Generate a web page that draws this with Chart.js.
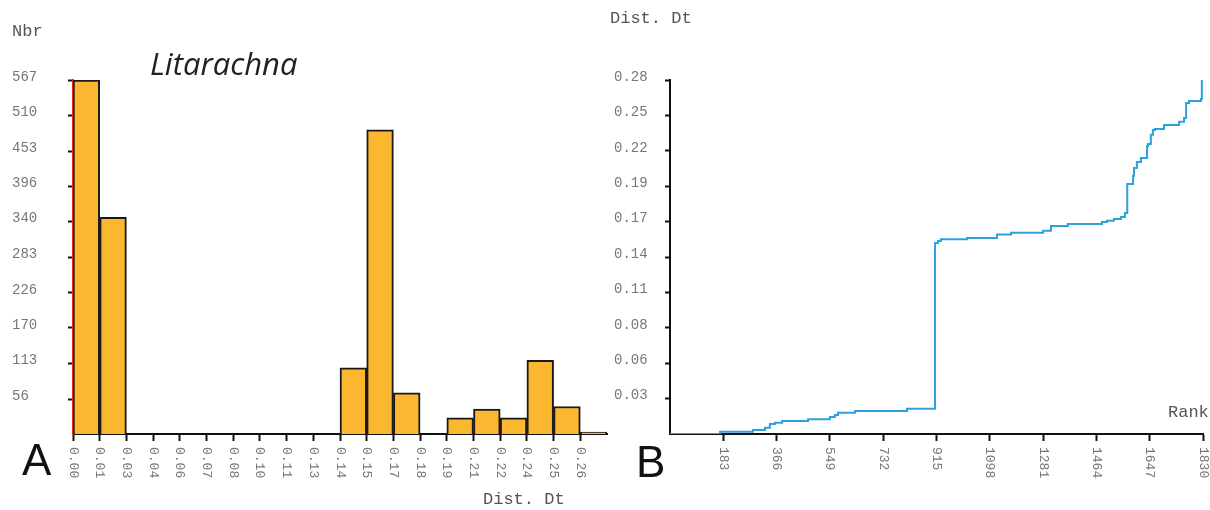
<!DOCTYPE html>
<html>
<head>
<meta charset="utf-8">
<script src="https://cdn.jsdelivr.net/npm/chart.js@4.4.1/dist/chart.umd.min.js"></script>
<style>
  body { margin: 0; width: 1210px; height: 510px; position: relative; background: #fff; overflow: hidden; }
  canvas { position: absolute; left: 0; top: 0; }
  .mono { position: absolute; font-family: "Liberation Mono", monospace; font-size: 17px; line-height: 17px; color: #555; white-space: nowrap; }
  .big { position: absolute; font-family: "Liberation Sans", Arial, sans-serif; font-size: 44px; line-height: 44px; color: #111; }
  .title { position: absolute; font-family: "Open Sans", sans-serif; font-style: italic; font-size: 31px; line-height: 31px; color: #222; }
</style>
</head>
<body>
<canvas id="histChart" width="1210" height="510"></canvas>
<canvas id="rankChart" width="1210" height="510"></canvas>

<div class="mono" style="left:12px; top:23px;">Nbr</div>
<div class="title" style="left:150px; top:48px;">Litarachna</div>
<div class="mono" style="left:483px; top:491px;">Dist. Dt</div>
<div class="big" style="left:22px; top:438px;">A</div>

<div class="mono" style="left:610px; top:10px;">Dist. Dt</div>
<div class="mono" style="left:1168px; top:404px;">Rank</div>
<div class="big" style="left:636px; top:440px;">B</div>

<script>
// histogram (A)
const binLabels = ['0.00', '0.01', '0.03', '0.04', '0.06', '0.07', '0.08', '0.10', '0.11', '0.13',
                   '0.14', '0.15', '0.17', '0.18', '0.19', '0.21', '0.22', '0.24', '0.25', '0.26'];
const binCounts = [567, 347, 0, 0, 0, 0, 0, 0, 0, 0, 106, 487, 66, 0, 26, 40, 26, 118, 44, 3];
const countTicks = [56, 113, 170, 226, 283, 340, 396, 453, 510, 567];

// rank curve (B)
const rankSteps = [0, 172, 285, 326, 343, 360, 385, 474, 549, 566, 577, 635, 814,
                   910, 920, 930, 1020, 1123, 1171, 1281, 1308, 1366, 1483, 1500, 1524, 1548, 1562,
                   1570, 1590, 1593, 1603, 1617, 1638, 1641, 1651, 1658, 1665, 1696, 1748, 1765,
                   1772, 1782, 1823, 1826];
const distSteps = [0, 0.0018, 0.0032, 0.0050, 0.0079, 0.0089, 0.0103, 0.0116, 0.0134, 0.0150, 0.0168, 0.0182, 0.0200,
                   0.1511, 0.1527, 0.1540, 0.1550, 0.1577, 0.1592, 0.1608, 0.1645, 0.1661, 0.1677, 0.1687, 0.1701, 0.1717, 0.1748,
                   0.1978, 0.2041, 0.2104, 0.2152, 0.2183, 0.2278, 0.2294, 0.2366, 0.2405, 0.2413, 0.2445, 0.2469, 0.2500,
                   0.2619, 0.2634, 0.2650, 0.2800];
const rankTicks = [183, 366, 549, 732, 915, 1098, 1281, 1464, 1647, 1830];
const distTickLabels = ['0.03', '0.06', '0.08', '0.11', '0.14', '0.17', '0.19', '0.22', '0.25', '0.28'];

const monoFont = { family: '"Liberation Mono", monospace', size: 14 };
const axisInk = '#111';

// x labels read top to bottom, so draw them ourselves
function downLabels(getText) {
    return {
        id: 'downLabels',
        afterDraw(chart) {
            const s = chart.scales.x;
            const ctx = chart.ctx;
            ctx.save();
            ctx.font = '13px "Liberation Mono", monospace';
            ctx.fillStyle = '#777';
            ctx.textAlign = 'left';
            ctx.textBaseline = 'middle';
            s.ticks.forEach((t, i) => {
                const x = s.getPixelForValue(t.value);
                ctx.save();
                ctx.translate(x, s.top + 13);
                ctx.rotate(Math.PI / 2);
                ctx.fillText(getText(t.value, i), 0, 0);
                ctx.restore();
            });
            ctx.restore();
        }
    };
}

new Chart(document.getElementById('histChart'), {
    type: 'bar',
    data: {
        datasets: [{
            data: binCounts.map((c, i) => ({ x: i + 0.5, y: c })),
            backgroundColor: '#fbb72f',
            borderColor: '#1a1a1a',
            borderWidth: 2,
            barPercentage: 1,
            categoryPercentage: 1
        }]
    },
    options: {
        responsive: false,
        animation: false,
        layout: { padding: { left: 12, top: 80, right: 603, bottom: 0 } },
        plugins: { legend: { display: false }, tooltip: { enabled: false } },
        scales: {
            x: {
                type: 'linear',
                min: 0,
                max: binLabels.length,
                offset: false,
                z: 1,
                afterBuildTicks: s => { s.ticks = binLabels.map((l, i) => ({ value: i })); },
                afterFit: s => { s.height = 76; },
                ticks: { display: false },
                grid: { drawOnChartArea: false, offset: false, tickLength: 7, tickColor: axisInk, tickWidth: 2 },
                border: { color: axisInk, width: 2 }
            },
            y: {
                min: 0,
                max: 567,
                z: 1,
                afterBuildTicks: s => { s.ticks = countTicks.map(v => ({ value: v })); },
                afterFit: s => { s.width = 61; },
                ticks: { font: monoFont, color: '#777', crossAlign: 'far', labelOffset: -3 },
                grid: { drawOnChartArea: false, tickLength: 5, tickColor: axisInk, tickWidth: 2 },
                border: { color: '#e8261e', width: 2 }
            }
        }
    },
    plugins: [downLabels((v, i) => binLabels[i])]
});

new Chart(document.getElementById('rankChart'), {
    type: 'line',
    data: {
        datasets: [{
            data: rankSteps.map((r, i) => ({ x: r, y: distSteps[i] })),
            borderColor: '#2ba1de',
            borderWidth: 2,
            pointRadius: 0,
            stepped: true,
            fill: false
        }]
    },
    options: {
        responsive: false,
        animation: false,
        layout: { padding: { left: 614, top: 80, right: 7, bottom: 0 } },
        plugins: { legend: { display: false }, tooltip: { enabled: false } },
        scales: {
            x: {
                type: 'linear',
                min: 0,
                max: 1830,
                afterBuildTicks: s => { s.ticks = rankTicks.map(v => ({ value: v })); },
                afterFit: s => { s.height = 76; },
                ticks: { display: false },
                grid: { drawOnChartArea: false, tickLength: 7, tickColor: axisInk, tickWidth: 2 },
                border: { color: axisInk, width: 2 }
            },
            y: {
                min: 0,
                max: 0.28,
                afterBuildTicks: s => { s.ticks = distTickLabels.map((l, i) => ({ value: 0.028 * (i + 1) })); },
                afterFit: s => { s.width = 56; },
                ticks: {
                    font: monoFont, color: '#777', crossAlign: 'far', labelOffset: -3,
                    callback: (v, i) => distTickLabels[i]
                },
                grid: { drawOnChartArea: false, tickLength: 5, tickColor: axisInk, tickWidth: 2 },
                border: { color: axisInk, width: 2 }
            }
        }
    },
    plugins: [downLabels(v => String(v))]
});
</script>
</body>
</html>
